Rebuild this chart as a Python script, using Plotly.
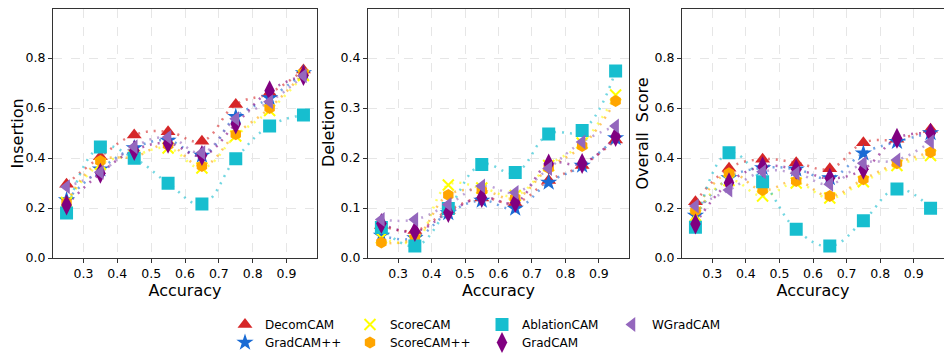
import plotly.graph_objects as go

# accuracy bins (x positions)
accuracy = [0.25, 0.35, 0.45, 0.55, 0.65, 0.75, 0.85, 0.95]

methods = ['DecomCAM', 'GradCAM++', 'ScoreCAM', 'ScoreCAM++', 'AblationCAM', 'GradCAM', 'WGradCAM']

# Insertion values
ins_decomcam = [0.295, 0.405, 0.492, 0.505, 0.467, 0.614, 0.660, 0.752]
ins_gradcampp = [0.232, 0.355, 0.440, 0.470, 0.410, 0.565, 0.640, 0.740]
ins_scorecam = [0.222, 0.375, 0.410, 0.440, 0.360, 0.488, 0.590, 0.730]
ins_scorecampp = [0.222, 0.388, 0.405, 0.452, 0.368, 0.495, 0.600, 0.740]
ins_ablationcam = [0.180, 0.444, 0.399, 0.299, 0.216, 0.397, 0.528, 0.572]
ins_gradcam = [0.212, 0.339, 0.430, 0.459, 0.410, 0.536, 0.669, 0.730]
ins_wgradcam = [0.285, 0.343, 0.445, 0.483, 0.421, 0.557, 0.625, 0.729]

# Deletion values
del_decomcam = [0.065, 0.055, 0.095, 0.120, 0.110, 0.155, 0.185, 0.236]
del_gradcampp = [0.045, 0.040, 0.090, 0.115, 0.099, 0.151, 0.185, 0.240]
del_scorecam = [0.040, 0.035, 0.146, 0.140, 0.125, 0.185, 0.230, 0.326]
del_scorecampp = [0.031, 0.040, 0.126, 0.135, 0.120, 0.180, 0.224, 0.314]
del_ablationcam = [0.061, 0.024, 0.099, 0.187, 0.171, 0.248, 0.255, 0.374]
del_gradcam = [0.069, 0.053, 0.091, 0.121, 0.111, 0.188, 0.189, 0.243]
del_wgradcam = [0.077, 0.077, 0.107, 0.144, 0.131, 0.179, 0.232, 0.264]

# Overall score values
ovr_decomcam = [0.225, 0.359, 0.395, 0.381, 0.357, 0.461, 0.475, 0.515]
ovr_gradcampp = [0.170, 0.320, 0.360, 0.355, 0.320, 0.419, 0.465, 0.500]
ovr_scorecam = [0.170, 0.310, 0.248, 0.300, 0.240, 0.305, 0.370, 0.410]
ovr_scorecampp = [0.189, 0.339, 0.272, 0.308, 0.248, 0.315, 0.379, 0.423]
ovr_ablationcam = [0.123, 0.421, 0.305, 0.115, 0.048, 0.149, 0.276, 0.199]
ovr_gradcam = [0.136, 0.301, 0.365, 0.355, 0.319, 0.355, 0.479, 0.499]
ovr_wgradcam = [0.208, 0.272, 0.345, 0.339, 0.295, 0.379, 0.392, 0.465]

insertion = [ins_decomcam, ins_gradcampp, ins_scorecam, ins_scorecampp, ins_ablationcam, ins_gradcam, ins_wgradcam]
deletion = [del_decomcam, del_gradcampp, del_scorecam, del_scorecampp, del_ablationcam, del_gradcam, del_wgradcam]
overall = [ovr_decomcam, ovr_gradcampp, ovr_scorecam, ovr_scorecampp, ovr_ablationcam, ovr_gradcam, ovr_wgradcam]

colors = ['#d62728', '#1a6bd4', '#ffff00', '#ffa500', '#17becf', '#800080', '#9467bd']
symbols = ['triangle-up', 'star', 'x-thin', 'hexagon', 'square', 'diamond-tall', 'triangle-left']
sizes = [13, 13, 11, 12, 13, 15, 13]

fig = go.Figure()

panels = [insertion, deletion, overall]
for p, panel in enumerate(panels):
    xa = 'x' if p == 0 else 'x%d' % (p + 1)
    ya = 'y' if p == 0 else 'y%d' % (p + 1)
    # dotted smooth curves
    for i, vals in enumerate(panel):
        fig.add_trace(go.Scatter(x=accuracy, y=vals, mode='lines', xaxis=xa, yaxis=ya,
                                 line=dict(color=colors[i], width=2.5, dash='2px,6px',
                                           shape='spline', smoothing=1.2),
                                 opacity=0.6, showlegend=False, hoverinfo='skip'))
    # markers
    for i, vals in enumerate(panel):
        if symbols[i] == 'x-thin':
            mk = dict(symbol='x-thin', size=sizes[i], color=colors[i],
                      line=dict(color=colors[i], width=2))
        else:
            mk = dict(symbol=symbols[i], size=sizes[i], color=colors[i], line=dict(width=0))
        lg = 'legend' if i == 0 else 'legend%d' % (i + 1)
        fig.add_trace(go.Scatter(x=accuracy, y=vals, mode='markers', xaxis=xa, yaxis=ya,
                                 marker=mk, name=methods[i], legend=lg,
                                 showlegend=(p == 0)))

# the page body adds an 8px margin, so the figure is 8px smaller than the window
W, H = 944, 355
xdoms = [[45 / W, 309 / W], [360 / W, 621 / W], [674 / W, 936 / W]]
ydom = [1 - 250 / H, 1 - 1 / H]
ytitles = ['Insertion', 'Deletion', 'Overall\u00a0 Score']
yranges = [[0, 0.996], [0, 0.498], [0, 0.996]]
ydticks = [0.2, 0.1, 0.2]

axis_common = dict(showline=True, linecolor='#333333', linewidth=1, mirror=True,
                   showgrid=True, gridcolor='#e6e6e6', griddash='dash', gridwidth=1,
                   zeroline=False, ticks='outside', ticklen=4, tickcolor='#333333',
                   automargin=False, tickfont=dict(size=12.5, color='black'))

layout = dict(width=W, height=H, margin=dict(l=0, r=0, t=0, b=0, autoexpand=False),
              plot_bgcolor='white', paper_bgcolor='white',
              font=dict(family='DejaVu Sans', color='black'))
for p in range(3):
    sfx = '' if p == 0 else str(p + 1)
    layout['xaxis' + sfx] = dict(axis_common, domain=xdoms[p], range=[0.21, 0.99],
                                 anchor='y' + sfx, tickvals=[0.3, 0.4, 0.5, 0.6, 0.7, 0.8, 0.9],
                                 tickformat='.1f',
                                 title=dict(text='Accuracy', font=dict(size=16), standoff=2))
    layout['yaxis' + sfx] = dict(axis_common, domain=ydom, range=yranges[p],
                                 anchor='x' + sfx, tickformat='.1f',
                                 tickvals=[round(k * ydticks[p], 2) for k in range(5)],
                                 title=dict(text=ytitles[p], font=dict(size=16), standoff=2))

# one legend per entry, laid out in 4 columns x 2 rows like the original
leg_x = [217, 217, 342, 342, 474, 474, 604]
leg_y = [302, 320, 302, 320, 302, 320, 302]
for i in range(len(methods)):
    name = 'legend' if i == 0 else 'legend%d' % (i + 1)
    layout[name] = dict(x=leg_x[i] / W, y=1 - leg_y[i] / H, xanchor='left', yanchor='top',
                        orientation='v', font=dict(size=12), bgcolor='rgba(0,0,0,0)',
                        itemsizing='trace')

fig.update_layout(**layout)
fig.write_html("out.html")
